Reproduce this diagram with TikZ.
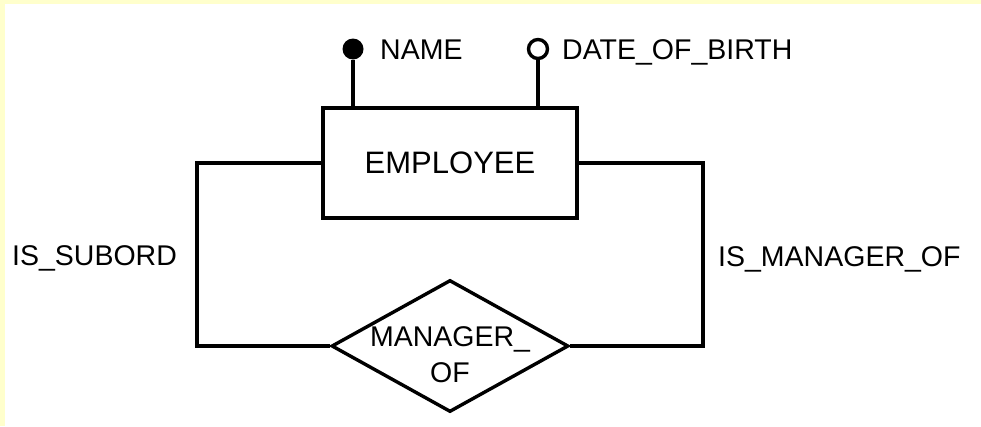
\documentclass[tikz,border=0pt]{standalone}
\usepackage{fontspec}
\setmainfont{Liberation Sans}
\usepackage{xcolor}
\definecolor{paper}{RGB}{255, 255, 204}
\usetikzlibrary{shapes.geometric, positioning}
\tikzset{
  entity/.style={rectangle, draw, line width=3.4pt, minimum width=254pt, minimum height=110pt, inner sep=0pt, font=\fontsize{31}{33}\selectfont},
  relship/.style={diamond, draw, line width=3.4pt, minimum width=237pt, minimum height=132pt, inner sep=0pt},
  reltext/.style={align=center, inner sep=0pt, font=\fontsize{28.5}{36}\selectfont},
  keydot/.style={circle, fill, inner sep=0pt, minimum size=21pt},
  attrdot/.style={circle, draw, line width=3.4pt, fill=white, inner sep=0pt, minimum size=19pt},
  attrlabel/.style={anchor=base west, inner sep=0pt, font=\fontsize{28.5}{30}\selectfont},
  rolelabel/.style={anchor=base west, inner sep=0pt, font=\fontsize{28.5}{30}\selectfont},
  link/.style={line width=3.4pt},
}
\begin{document}
\begin{tikzpicture}[x=1pt, y=-1pt]
\fill[paper] (0,0) rectangle (981,426);
\fill[white] (5,4) rectangle (981,426);
\useasboundingbox (0,0) rectangle (981,426);
% entity and relationship
\node[entity] (emp) at (450,163) {EMPLOYEE};
\node[relship] (rel) at (450,346) {};
\node[reltext] (reltxt) at (450,355) {MANAGER\_\\OF};
% attributes
\node[keydot] (name) at (353,49) {};
\node[attrdot] (dob) at (538,49) {};
\node[attrlabel] (namelbl) at (380,59) {NAME};
\node[attrlabel] (doblbl) at (562,59) {DATE\_OF\_BIRTH};
\draw[link] (name.south) -- (name.south |- emp.north);
\draw[link] (dob.south) -- (dob.south |- emp.north);
% roles
\coordinate (lft) at (197,250);
\coordinate (rgt) at (703,250);
\draw[link] (emp.west) -- (emp.west -| lft) -- (rel.west -| lft) -- (rel.west);
\draw[link] (emp.east) -- (emp.east -| rgt) -- (rel.east -| rgt) -- (rel.east);
\node[rolelabel] (sublbl) at (12,265) {IS\_SUBORD};
\node[rolelabel] (mgrlbl) at (718,266) {IS\_MANAGER\_OF};
\end{tikzpicture}
\end{document}
